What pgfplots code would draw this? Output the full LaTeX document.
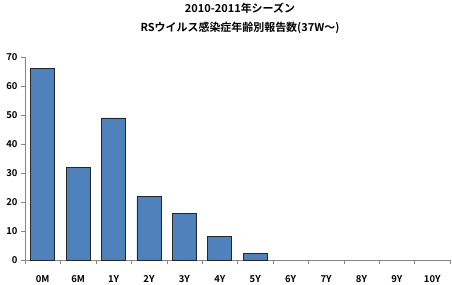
\documentclass[border=0pt]{standalone}
\usepackage{fontspec}
\setmainfont{Noto Sans CJK JP}[BoldFont={Noto Sans CJK JP Bold}]
\usepackage{pgfplots}
\pgfplotsset{compat=1.18}
\definecolor{barblue}{HTML}{4F81BD}
\definecolor{axgray}{HTML}{868686}
\begin{document}
\begin{tikzpicture}
\begin{axis}[
  at={(0,0)}, anchor=south west,
  scale only axis, width=425bp, height=203bp,
  xmin=-0.5, xmax=11.5, ymin=0, ymax=70,
  axis lines*=left,
  axis line style={axgray, -},
  ytick={0,10,...,70},
  xtick={0,...,11},
  xticklabels={0M,6M,1Y,2Y,3Y,4Y,5Y,6Y,7Y,8Y,9Y,10Y},
  minor xtick={-0.5,0.5,...,11.5},
  major x tick style={draw=none},
  minor tick length=4bp,
  major tick length=4bp,
  tick align=outside,
  tick style={axgray},
  minor tick style={axgray},
  tick label style={font=\fontsize{9.5}{11}\selectfont\bfseries},
  /pgf/number format/assume math mode=true,
  xticklabel style={yshift=-8bp},
  yticklabel style={xshift=0bp},
  ybar, bar width=24bp,
  clip=false,
]
\addplot[fill=barblue, draw=black!85, line width=0.7pt] coordinates {
 (0,66) (1,32) (2,49) (3,22) (4,16) (5,8) (6,2.3)};
\end{axis}
\node[font=\fontsize{11}{13}\selectfont\bfseries] at (215bp,252bp) {2010-2011年シーズン};
\node[font=\fontsize{11}{13}\selectfont\bfseries] at (215bp,232bp) {RSウイルス感染症年齢別報告数(37W～)};
\pgfresetboundingbox
\path[use as bounding box] (-25bp,-25bp) rectangle (427bp,260bp);
\end{tikzpicture}
\end{document}
